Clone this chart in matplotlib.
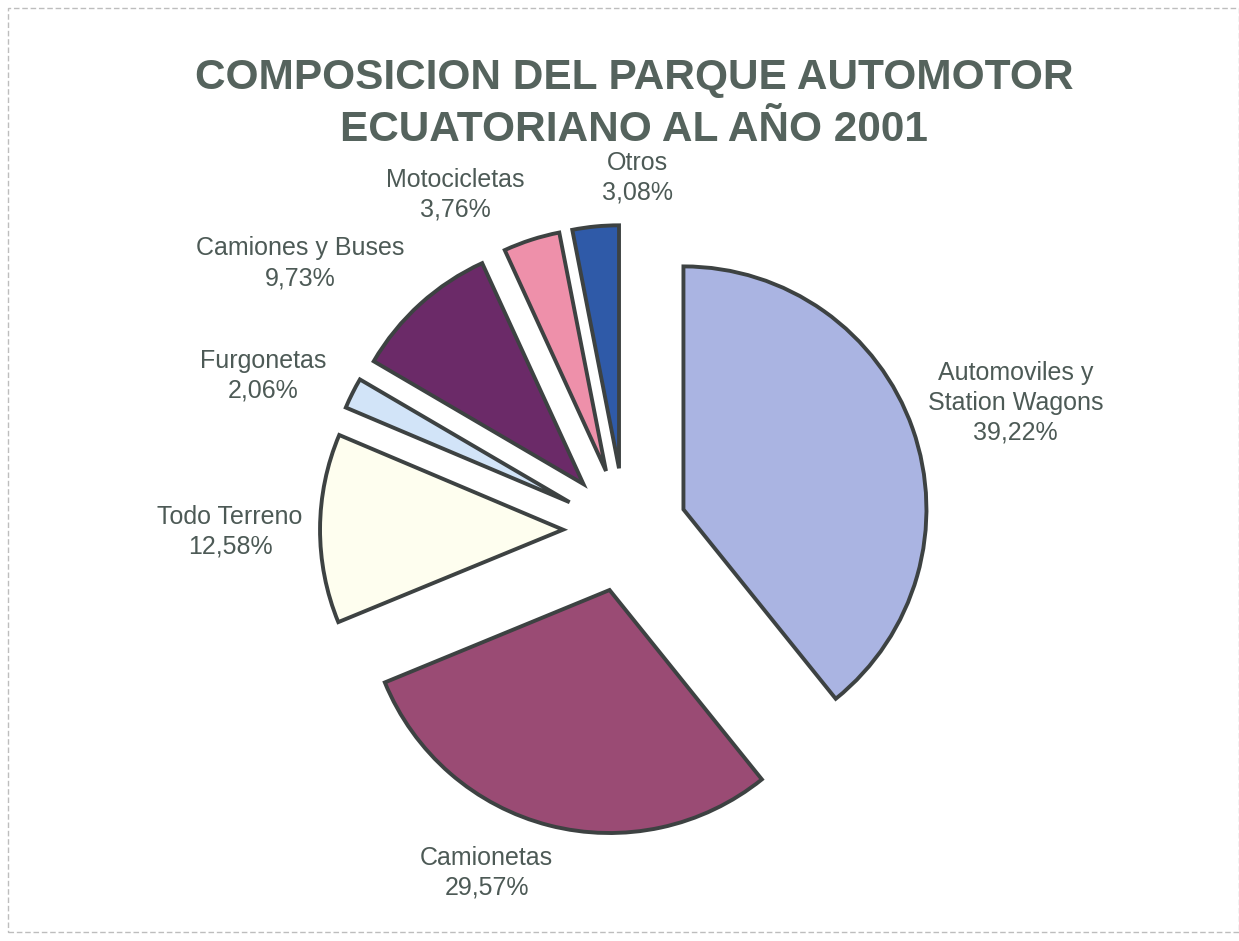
import numpy as np
import matplotlib
matplotlib.use("Agg")
import matplotlib.pyplot as plt
from matplotlib.patches import Rectangle

# ---- data ----
categories = ["Automoviles y\nStation Wagons", "Camionetas", "Todo Terreno", "Furgonetas",
              "Camiones y Buses", "Motocicletas", "Otros"]
values = [39.22, 29.57, 12.58, 2.06, 9.73, 3.76, 3.08]
value_labels = ["39,22%", "29,57%", "12,58%", "2,06%", "9,73%", "3,76%", "3,08%"]
title = "COMPOSICION DEL PARQUE AUTOMOTOR\nECUATORIANO AL AÑO 2001"

# ---- style / layout ----
colors = ["#aab4e2", "#9a4b74", "#fefeef", "#d2e4f8", "#6b2a68", "#ee90aa", "#2f5aa8"]
edge = "#3d4242"
text_color = "#4d5a56"
label_angle = [18.0, -112.0, 180.3, 156.9, 140.6, 116.9, 87.9]
label_radius = [1.69, 1.52, 1.625, 1.62, 1.73, 1.546, 1.45]

W, H = 1239, 941
fig = plt.figure(figsize=(W / 100, H / 100), dpi=100)
fig.patch.set_facecolor("white")
ax = fig.add_axes([0, 0, 1, 1])

R = 243.0
cx, cy = 625.0, 530.0
wedges, texts = ax.pie(values, colors=colors, startangle=90, counterclock=False,
                       explode=[0.255] * len(values),
                       labels=[f"{c}\n{v}" for c, v in zip(categories, value_labels)],
                       labeldistance=1.5,
                       wedgeprops=dict(edgecolor=edge, linewidth=2.8, joinstyle="miter"),
                       textprops=dict(fontsize=18, color=text_color,
                                      family=["Liberation Sans", "DejaVu Sans"]))
for t, a, r in zip(texts, label_angle, label_radius):
    t.set_position((r * np.cos(np.radians(a)), r * np.sin(np.radians(a))))
    t.set_ha("center")
    t.set_va("center")
    t.set_multialignment("center")
    t.set_linespacing(1.3)

ax.set_xlim(-cx / R, (W - cx) / R)
ax.set_ylim(-(H - cy) / R, cy / R)
ax.set_aspect("auto")
ax.axis("off")

fig.text(0.512, 1 - 104 / H, title, ha="center", va="center", fontsize=30.5,
         fontweight="bold", color="#55635d", linespacing=1.38,
         family=["Liberation Sans", "DejaVu Sans"])

fig.patches.append(Rectangle((8 / W, 1 - 932 / H), (W - 8) / W, (932 - 8) / H,
                             transform=fig.transFigure, fill=False,
                             edgecolor="#bdbdbd", linewidth=1.0, linestyle=(0, (4, 2))))

fig.savefig("out.png", dpi=100, facecolor="white")
